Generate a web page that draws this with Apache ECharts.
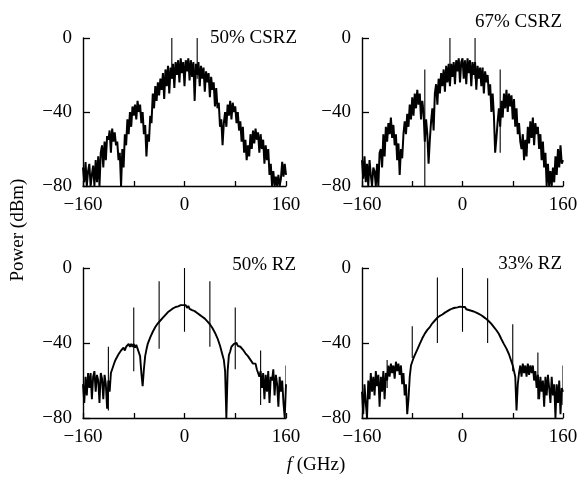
<!DOCTYPE html>
<html><head><meta charset="utf-8">
<script src="https://cdn.jsdelivr.net/npm/echarts@6/dist/echarts.min.js"></script>
<style>html,body{margin:0;padding:0;background:#fff}#c{width:584px;height:484px}</style>
</head><body><div id="c"></div>
<script>
// Frequency grid (GHz), 2 GHz step
const freq = Array.from({length:161}, (_, i) => -160 + 2 * i);
const xTicks = [-160, 0, 160];
const yTicks = [0, -40, -80];
const panelTitles = ['50% CSRZ', '67% CSRZ', '50% RZ', '33% RZ'];

// Power (dBm), f = -160..160 step 2
const csrz50 = [
-70,-78,-67,-80,-72, -68,-80,-74,-69,-80, -66,-78,-64,-80,-62, -58,-70,-56,-66,-53,
-55,-50,-62,-49,-56, -51,-58,-56,-66,-62, -80,-60,-70,-52,-58, -44,-52,-40,-48,-37,
-42,-36,-44,-34,-40, -36,-46,-40,-52,-47, -64,-52,-56,-42,-46, -30,-38,-26,-34,-24,
-31,-22,-28,-19,-33, -17,-26,-15,-30,-16, -22,-14,-27,-13,-20, -12,-24,-11,-19,-13,
-26,-12,-18,-11,-23, -12,-21,-13,-34,-14, -20,-13,-26,-15,-22, -16,-29,-18,-24,-19,
-32,-21,-28,-24,-37, -27,-38,-35,-48,-44, -58,-46,-40,-48,-36, -42,-34,-44,-35,-40,
-37,-46,-40,-50,-45, -56,-48,-62,-55,-66, -58,-64,-52,-60,-50, -57,-49,-55,-51,-62,
-52,-60,-55,-68,-58, -66,-60,-74,-68,-80, -72,-80,-75,-80,-74, -80,-76,-67,-75,-68,
-74];
const csrz67 = [
-66,-76,-64,-78,-68, -80,-66,-74,-80,-70, -72,-80,-68,-80,-62, -60,-70,-52,-64,-48,
-56,-46,-52,-43,-54, -47,-58,-52,-66,-57, -74,-60,-65,-52,-45, -52,-41,-48,-36,-44,
-32,-42,-30,-38,-28, -36,-30,-44,-34,-40, -56,-44,-52,-68,-55, -45,-38,-50,-30,-25,
-36,-22,-30,-19,-26, -17,-29,-15,-24,-14, -26,-14,-21,-13,-25, -12,-18,-11,-24,-13,
-11,-22,-12,-25,-11, -19,-12,-26,-13,-20, -13,-28,-15,-22,-16, -26,-16,-30,-18,-24,
-20,-31,-25,-40,-30, -42,-62,-54,-45,-38, -48,-34,-43,-30,-38, -28,-40,-30,-37,-31,
-44,-33,-48,-38,-52, -46,-56,-60,-52,-66, -55,-64,-48,-57,-45, -54,-43,-58,-46,-52,
-48,-60,-52,-66,-56, -70,-62,-80,-68,-80, -72,-80,-70,-78,-64, -74,-60,-70,-58,-68,
-66];
const rz50 = [
-62,-72,-58,-68,-56, -64,-56,-70,-58,-55, -66,-57,-60,-72,-56, -59,-70,-57,-62,-75,
-60,-66,-56,-54,-52, -50,-48.5,-48.5,-46,-46, -44,-45,-42.5,-44,-42, -42.5,-40.5,-42,-40.5,-42,
-40.5,-42.5,-41,-43,-44, -47,-56,-63,-54,-47, -43.5,-40.5,-39.5,-37,-36.5, -34,-34,-31.5,-31.5,-29.5,
-29.5,-28,-28,-26.5,-26.5, -25,-25,-23.5,-24,-22.5, -23,-21.5,-22,-20.8,-21.5, -20.5,-21.2,-19.8,-20.8,-19.8,
-20.8,-19.8,-21.3,-20.2,-21.8, -21,-22.5,-21.5,-23,-22.5, -24,-23,-25,-24,-26, -25.5,-27,-27,-28.5,-28.5,
-30,-30,-32,-32.5,-34.5, -35,-37.5,-38.5,-41.5,-42.5, -46.5,-49,-55,-80,-55, -46.5,-44.5,-42,-42,-40.5,
-41.5,-40,-41.5,-40.5,-42, -41.5,-43.5,-43,-45.5,-45, -47,-47,-49,-49,-51, -52,-51,-54,-53,-58,
-55,-64,-56,-70,-57, -66,-55,-72,-58,-60, -54,-68,-57,-62,-74, -58,-66,-60,-72,-80,
-62];
const rz33 = [
-66,-78,-62,-72,-80, -60,-70,-56,-66,-58, -68,-55,-63,-57,-74, -58,-66,-55,-70,-56,
-60,-52,-58,-51,-56, -52,-59,-50,-55,-51, -57,-52,-62,-56,-68, -62,-78,-70,-58,-52,
-50,-48,-46.5,-45,-43.5, -42.5,-40.5,-40,-37.5,-37.5, -35,-35,-33,-33,-31.5, -31.5,-29.5,-30,-28,-28.5,
-26.5,-27.5,-25.5,-26.5,-24.8, -25.5,-23.8,-24.5,-23,-23.8, -22.2,-23,-21.6,-22.5,-21.2, -22,-21,-21.8,-20.6,-21.5,
-20.8,-21.6,-20.8,-22,-21.2, -22.4,-21.6,-22.8,-22,-23.2, -22.5,-23.8,-23,-24.5,-23.8, -25.2,-24.6,-26.2,-25.6,-27.2,
-26.8,-28.4,-28.2,-29.8,-29.8, -31.5,-31.2,-33.2,-33.5,-35.2, -36,-38,-38.5,-40.6,-41.5, -43,-44,-46,-47,-50,
-52,-55,-58,-76,-62, -56,-52,-58,-51,-56, -52,-58,-51,-57,-52, -56,-52,-60,-55,-64,
-57,-70,-58,-66,-60, -74,-58,-68,-57,-64, -72,-58,-68,-62,-80, -62,-72,-60,-78,-64,
-66];

// Discrete tones: [f, top dBm, bottom dBm]
const tones50csrz = [[-20, 0, -22], [20, 0, -22]];
const tones67csrz = [[-60, -17, -80], [-20, 0, -22], [20, 0, -22], [60, -17, -62]];
const tones50rz = [[-160,-53,-76],[-120,-42,-76],[-80,-21,-55],[-40,-7,-43],[0,0,-34],[40,-7,-42],[80,-21,-54],[120,-44,-73],[160,-52,-68]];
const tones33rz = [[-120,-49,-64],[-80,-31,-48],[-40,-5,-40],[0,0,-34],[40,-5.5,-40],[80,-30,-55],[120,-45,-70],[160,-52,-73]];

const spectra = [csrz50, csrz67, rz50, rz33];
const tones = [tones50csrz, tones67csrz, tones50rz, tones33rz];
const lineWidths = [2, 2, 1.9, 1.9];

const FONT = '"Liberation Serif","DejaVu Serif",serif';
const minus = v => String(v).replace('-', '\u2212');

const grids = [
  {left: 83, top: 38, width: 203, height: 148},
  {left: 362, top: 38, width: 201, height: 148},
  {left: 83, top: 268, width: 203, height: 150},
  {left: 362, top: 268, width: 201, height: 150}
];
const titlePos = [[297, 38], [562, 22], [296, 265], [562, 264]];

const xAxes = [], yAxes = [], series = [], graphics = [];
grids.forEach((g, i) => {
  xAxes.push({
    gridIndex: i, type: 'value', min: -160, max: 160, interval: 80,
    axisLine: {show: true, onZero: false, lineStyle: {color: '#000', width: 1.4}},
    axisTick: {show: true, inside: true, length: 5, lineStyle: {color: '#000', width: 1.3}},
    splitLine: {show: false},
    axisLabel: {margin: 10, color: '#000', fontFamily: FONT, fontSize: 19,
      formatter: v => xTicks.includes(v) ? minus(v) : ''}
  });
  yAxes.push({
    gridIndex: i, type: 'value', min: -80, max: 0, interval: 40,
    axisLine: {show: true, onZero: false, lineStyle: {color: '#000', width: 1.4}},
    axisTick: {show: true, inside: true, length: 7, lineStyle: {color: '#000', width: 1.3}},
    splitLine: {show: false},
    axisLabel: {margin: 11, color: '#000', fontFamily: FONT, fontSize: 19,
      formatter: v => yTicks.includes(v) ? minus(v) : ''}
  });
  series.push({
    type: 'line', xAxisIndex: i, yAxisIndex: i, showSymbol: false, animation: false,
    data: freq.map((f, k) => [f, spectra[i][k]]),
    lineStyle: {color: '#000', width: lineWidths[i]}, clip: true
  });
  series.push({
    type: 'custom', xAxisIndex: i, yAxisIndex: i, animation: false, clip: true,
    data: tones[i],
    encode: {x: 0, y: [1, 2]},
    renderItem: (params, api) => {
      const a = api.coord([api.value(0), api.value(1)]);
      const b = api.coord([api.value(0), api.value(2)]);
      return {type: 'line', shape: {x1: a[0], y1: a[1], x2: b[0], y2: b[1]},
        style: {stroke: '#000', lineWidth: 1.1}};
    }
  });
  graphics.push({type: 'text', x: titlePos[i][0], y: titlePos[i][1],
    style: {text: panelTitles[i], fill: '#000', font: '19px ' + FONT, align: 'right', verticalAlign: 'middle'}});
});

graphics.push({type: 'text', x: 18, y: 230, rotation: Math.PI / 2,
  style: {text: 'Power (dBm)', fill: '#000', font: '19px ' + FONT, align: 'center', verticalAlign: 'middle'}});
graphics.push({type: 'text', x: 316, y: 465,
  style: {text: '{i|f} (GHz)', fill: '#000', font: '19px ' + FONT, align: 'center', verticalAlign: 'middle',
    rich: {i: {fontStyle: 'italic', fontFamily: FONT, fontSize: 19}}}});

const chart = echarts.init(document.getElementById('c'));
chart.setOption({
  animation: false,
  backgroundColor: '#fff',
  grid: grids,
  xAxis: xAxes,
  yAxis: yAxes,
  series: series,
  graphic: graphics
});
</script>
</body></html>
